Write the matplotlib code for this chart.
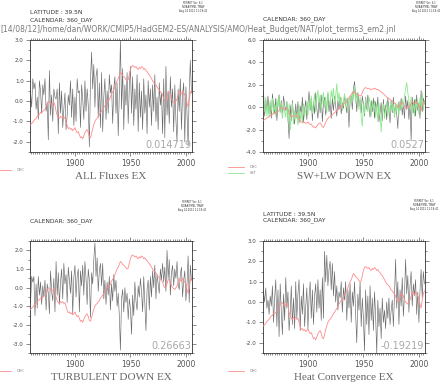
import numpy as np
import matplotlib
matplotlib.use('Agg')
import matplotlib.pyplot as plt
from matplotlib.ticker import MultipleLocator, FormatStrFormatter

# annual values 1860-2005
years = np.arange(1860, 2006)

ohc = [
    -1.17, -1.10, -1.05, -0.95, -0.90, -0.85, -0.75, -0.68, -0.65, -0.55,
    -0.58, -0.50, -0.45, -0.40, -0.30, -0.10, 0.00, -0.05, -0.10, -0.20,
    -0.15, -0.05, -0.20, -0.50, -0.70, -0.80, -0.85, -0.75, -0.80, -0.75,
    -0.85, -0.80, -1.00, -1.20, -1.35, -1.30, -1.40, -1.35, -1.45, -1.40,
    -1.30, -1.45, -1.55, -1.50, -1.65, -1.80, -1.75, -1.85, -1.70, -1.55,
    -1.45, -1.40, -1.55, -1.75, -1.80, -1.60, -1.35, -1.15, -1.00, -0.90,
    -0.85, -0.75, -0.70, -0.55, -0.50, -0.40, -0.30, -0.25, -0.10, 0.00,
    0.10, 0.05, 0.20, 0.35, 0.45, 0.55, 0.70, 0.85, 1.00, 1.10,
    1.25, 1.40, 1.35, 1.25, 1.20, 1.15, 1.05, 1.00, 1.05, 1.30,
    1.55, 1.70, 1.75, 1.70, 1.65, 1.70, 1.60, 1.55, 1.65, 1.60,
    1.70, 1.65, 1.55, 1.60, 1.50, 1.45, 1.35, 1.30, 1.20, 1.10,
    1.00, 0.90, 0.85, 0.80, 0.70, 0.60, 0.55, 0.45, 0.40, 0.30,
    0.10, 0.00, 0.05, 0.20, 0.45, 0.40, 0.30, 0.10, 0.00, -0.05,
    -0.10, 0.00, 0.10, 0.30, 0.50, 0.40, 0.35, 0.50, 0.40, 0.30,
    0.20, -0.10, -0.30, 0.10, 0.40, 0.55]

all_fluxes = [
    0.4, -0.3, 1.1, 0.6, 0.9, -0.4, 0.2, -0.9, 1.0, 0.5,
    -0.6, 0.8, 0.3, 1.1, -0.5, -0.1, -1.9, 1.5, -0.7, 0.3,
    -1.0, 0.6, 0.2, 0.1, 0.6, -1.6, 0.9, -0.6, 0.5, -1.3,
    -0.4, 0.4, -1.4, -0.7, 0.3, -0.2, 1.0, -0.8, 0.6, -1.2,
    0.2, -1.0, 1.1, 0.4, 0.5, -1.3, 0.8, 0.1, -0.9, 1.0,
    -0.5, 0.6, -0.2, -2.25, 1.0, 2.4, 0.6, 1.8, -0.3, 1.2,
    1.6, -0.8, 0.9, -1.3, 1.4, -1.5, 0.2, 1.1, -0.9, 0.5,
    -0.6, 1.3, 0.4, 0.8, -1.1, 0.6, 1.2, -0.6, 0.9, -1.7,
    0.4, 3.0, -0.4, 1.6, -1.4, 0.8, -0.2, 1.4, -1.1, 0.7,
    1.7, -0.6, 1.2, -1.2, 0.6, -0.4, 1.3, -1.5, 0.9, -0.8,
    0.5, -1.4, 1.1, -0.6, 0.3, -1.6, 1.0, -0.3, 0.6, -1.2,
    0.8, -0.5, 1.3, -1.0, 0.2, -1.4, 0.9, -0.2, 0.4, -1.6,
    1.1, -1.8, 1.7, -0.7, 0.5, -1.1, 1.2, -0.3, 0.6, -1.5,
    0.8, -0.9, -2.0, 0.6, -0.5, 1.1, -1.4, 0.3, 0.9, -2.0,
    0.7, -0.6, -2.2, 0.5, 2.0, 0.4]

swlw_down = [
    1.3, -0.8, 0.6, -0.2, 1.0, -0.6, 0.4, -1.0, 1.2, 0.1,
    -0.5, 0.8, -1.2, 0.3, 1.1, -0.4, 0.6, -0.9, 1.0, 0.2,
    -0.3, 0.5, -1.0, -2.8, 0.2, -1.2, 0.6, -0.8, -1.5, 0.3,
    -1.0, 0.5, -1.4, 0.1, -0.6, 0.9, -1.3, -0.2, 0.6, -1.1,
    0.3, 1.4, -0.3, 0.8, -1.2, 0.5, -0.6, 1.3, -0.1, -1.0,
    0.7, -0.5, 1.1, -1.3, 0.4, 0.9, -0.7, 0.2, 1.2, -0.4,
    0.5, -1.0, 0.8, -0.3, 1.0, 0.1, -0.8, 0.6, -0.2, 0.9,
    -0.6, 0.4, -0.1, 1.1, 0.3, -0.5, 0.8, -1.8, 0.6, 1.0,
    -0.2, 1.6, 2.3, 0.9, -0.4, 1.3, 0.1, 0.7, -0.5, 1.0,
    0.3, -0.8, 0.9, -0.2, 1.1, 0.0, -0.9, 0.6, -0.4, 0.8,
    -1.0, 0.5, -0.3, 0.9, -1.3, -0.5, 0.4, -1.2, 0.7, -0.6,
    0.2, -1.1, 0.8, -0.2, -1.4, 0.6, -0.5, 0.9, -0.9, 0.3,
    -0.6, -1.9, 0.5, -0.3, 0.8, -0.7, 0.4, -1.0, 1.0, -0.2,
    0.6, -1.1, 0.3, -3.0, 0.9, -0.5, 0.7, -0.8, 1.1, -0.3,
    0.4, -1.0, 1.5, -0.4, 0.8, 0.3]

sst = [
    0.5, -0.4, 0.9, -0.8, 0.2, -0.9, 0.6, -0.3, 0.8, -0.6,
    0.3, -0.8, 0.7, 0.0, 1.1, -0.5, 0.4, -1.0, 0.2, -0.4,
    -0.9, 0.5, -1.3, 0.3, -2.0, -0.8, 0.4, -1.5, -0.3, -1.0,
    -0.6, -1.6, 0.2, -1.2, -0.4, -1.4, 0.3, -0.8, -0.3, 0.5,
    -0.7, 0.6, -0.2, 1.0, -0.6, 0.3, 1.2, -0.4, 0.8, 1.5,
    0.4, 1.1, -0.3, 0.7, 1.3, 0.0, 0.9, -0.5, 1.4, 0.6,
    0.2, 1.5, 0.8, 1.7, 0.3, 1.0, 2.1, 0.5, 1.3, 0.2,
    0.9, -0.3, 0.6, 1.2, 0.1, 0.8, -0.5, 0.5, 1.0, 0.3,
    1.4, 0.7, 1.9, 0.4, 1.2, 0.6, -0.2, 0.9, -0.9, -1.7,
    0.3, -0.6, 0.8, 0.1, -0.4, 0.9, 0.4, -0.8, 0.5, -0.2,
    0.6, -0.9, 0.2, -1.3, 0.4, -0.7, -2.2, -0.4, 0.3, -1.0,
    -0.2, 0.5, -0.8, 0.1, -0.5, 0.6, -0.3, 0.2, -0.9, 0.4,
    -0.4, 0.3, -0.7, 0.5, -0.2, 0.7, 0.0, 1.0, 1.6, 2.2,
    1.3, 0.6, -0.2, 0.9, -0.5, 0.4, -0.8, 0.7, -0.1, 0.5,
    -0.6, 0.8, 0.1, 1.3, -0.3, 0.6]

turbulent_down = [
    -0.8, 0.6, 0.3, 0.6, -1.5, 0.2, -1.1, 0.6, -0.4, 0.3,
    -0.9, 0.1, -0.5, 0.4, -1.2, 0.2, -0.3, -1.4, 0.9, -0.2,
    -0.7, 0.5, -1.3, 1.4, -0.4, 0.8, -0.9, 0.3, 1.0, -0.6,
    1.3, 0.2, 0.7, -0.8, 1.1, 0.4, -0.3, 0.9, -1.4, 0.5,
    1.2, -0.5, 0.6, 1.0, -1.3, 0.9, 0.1, 1.2, -0.4, 1.4,
    0.5, -0.9, 1.0, 0.4, -1.6, 0.8, 0.2, 1.5, 2.4, 0.6,
    1.6, -0.2, 0.9, 1.3, 0.1, 1.3, -0.6, 0.4, -0.9, 0.3,
    -0.4, 0.6, -1.2, 0.2, -0.7, 0.7, -0.2, 0.4, -1.0, -0.3,
    -1.5, -3.35, -0.6, -0.1, -1.3, 0.0, -0.8, -0.3, -1.7, -0.6,
    -1.1, -2.5, -0.4, -1.5, 0.3, -0.7, -1.2, 0.1, -0.5, 0.5,
    -0.2, -1.3, 0.6, -0.9, -2.3, -0.1, 0.4, -1.2, 0.6, -0.5,
    0.9, 0.0, 1.2, -0.6, 0.7, 0.2, -0.3, 1.0, 0.4, 1.3,
    0.3, 1.1, -0.2, 2.0, 0.5, 1.5, -0.4, 0.8, 1.2, 0.1,
    1.0, 0.5, 1.4, 0.2, -0.1, 0.7, 1.1, -0.5, 0.4, 0.9,
    -0.7, 0.2, 1.7, -0.8, 1.2, 0.4]

heat_conv = [
    0.5, 0.0, 0.7, -0.3, 0.1, -0.6, 0.3, -0.2, 0.8, -1.0,
    0.2, 1.1, -1.2, 0.6, -1.7, 0.9, -0.5, -1.6, 0.4, -0.9,
    1.2, -0.3, 0.5, -1.4, -0.6, 0.8, -1.1, 0.2, -1.3, 1.0,
    -0.8, 0.4, 1.1, -1.4, 0.3, -0.6, 0.9, -1.2, -0.2, 0.7,
    -1.3, 0.2, 1.0, -0.8, 0.6, -1.1, 0.3, 0.9, -0.5, 1.1,
    -0.3, 0.6, -0.9, 1.2, -0.8, 2.5, 1.0, 2.3, 0.8, 1.6,
    2.0, 0.6, 1.9, 0.3, 1.5, 0.0, 0.8, -0.4, 0.5, 0.2,
    1.0, -0.5, 0.7, 0.1, 1.0, -0.9, 0.6, -0.3, 0.9, -1.0,
    0.5, -0.2, 1.0, -0.6, -2.0, 0.4, -0.4, 1.0, -1.2, 0.2,
    -0.8, -2.4, 0.6, -1.1, 0.3, -1.6, 0.8, -0.9, 0.2, -1.4,
    0.5, -0.7, -2.5, 0.1, -1.2, -0.3, -1.8, 0.2, -1.0, -0.4,
    -1.3, 0.0, -0.8, 0.2, -1.1, -0.4, 0.1, -1.2, 0.3, 2.1,
    -0.3, 1.0, -1.1, 0.6, -0.2, 1.2, -0.7, 0.3, 2.1, 0.4,
    1.3, -0.5, 0.8, 1.5, -0.2, 0.9, 0.3, 1.1, -0.6, 0.5,
    -1.0, 0.6, 1.6, 0.2, 1.5, 0.9]

titles = ['ALL Fluxes EX', 'SW+LW DOWN EX', 'TURBULENT DOWN EX', 'Heat Convergence EX']
corr_labels = ['0.014719', '0.0527', '0.26663', '-0.19219']

W, H = 442, 384
path_txt = '[14/08/12]/home/dan/WORK/CMIP5/HadGEM2-ES/ANALYSIS/AMO/Heat_Budget/NAT/plot_terms3_em2.jnl'
stamp = 'FERRET Ver. 6.1\nNOAA/PMEL TMAP\nAug 14 2012 11:18:41'

RED = '#ff8c8c'
GREEN = '#8ee88e'
GRAY = '#6a6a6a'


def fx(x):
    return x / W


def fy(y):
    return 1 - y / H


def panel(rect, gray, ylim, ymaj, ymin, corr, title, sst_line=None):
    ax = fig.add_axes(rect)
    ax.plot(years, gray, color=GRAY, lw=0.45, zorder=2)
    l1, = ax.plot(years, ohc, color=RED, lw=0.6, zorder=3, label='OHC')
    handles = [l1]
    if sst_line is not None:
        l2, = ax.plot(years, sst_line, color=GREEN, lw=0.6, zorder=2.5, label='SST')
        handles.append(l2)
    ax.set_xlim(1859.5, 2005.5)
    ax.set_ylim(*ylim)
    ax.xaxis.set_major_locator(MultipleLocator(50))
    ax.xaxis.set_minor_locator(MultipleLocator(2))
    ax.yaxis.set_major_locator(MultipleLocator(ymaj))
    ax.yaxis.set_minor_locator(MultipleLocator(ymin))
    ax.yaxis.set_major_formatter(FormatStrFormatter('%.1f'))
    ax.tick_params(which='both', direction='out', top=True, right=True,
                   width=0.4, colors='#333333')
    ax.tick_params(which='major', length=3)
    ax.tick_params(which='minor', length=1.5)
    ax.tick_params(axis='y', labelsize=4, pad=1.5, labelcolor='#444444')
    ax.tick_params(axis='x', labelsize=5.5, pad=2, labelcolor='#555555')
    for s in ax.spines.values():
        s.set_linewidth(0.6)
        s.set_color('#333333')
    ax.text(0.995, 0.02, corr, transform=ax.transAxes, ha='right', va='bottom',
            fontsize=7, color='#a8a8a8')
    ax.text(0.5, -0.215, title, transform=ax.transAxes, ha='center', va='center',
            fontsize=8, color='#666666', family='Liberation Serif')
    leg = ax.legend(handles=handles, loc='center left', bbox_to_anchor=(-0.215, -0.16),
                    frameon=False, fontsize=2.5, handlelength=4.5, handletextpad=1.6,
                    labelspacing=0.6, borderpad=0, borderaxespad=0)
    for t in leg.get_texts():
        t.set_color('#777777')
    return ax


fig = plt.figure(figsize=(W / 100, H / 100), dpi=100)

aw, ah = 162 / W, 112 / H
panel([fx(30), fy(152), aw, ah], all_fluxes, (-2.5, 3.0), 1.0, 0.5, corr_labels[0], titles[0])
panel([fx(263), fy(152), aw, ah], swlw_down, (-4.0, 6.0), 2.0, 1.0, corr_labels[1], titles[1], sst_line=sst)
panel([fx(30), fy(353), aw, ah], turbulent_down, (-3.5, 2.5), 1.0, 0.5, corr_labels[2], titles[2])
panel([fx(263), fy(353), aw, ah], heat_conv, (-2.5, 3.0), 1.0, 0.5, corr_labels[3], titles[3])

# header texts
hdr = dict(fontsize=4.3, color='#333333', va='center', ha='left')
fig.text(fx(30), fy(13), 'LATITUDE : 39.5N', **hdr)
fig.text(fx(30), fy(20), 'CALENDAR: 360_DAY', **hdr)
fig.text(fx(263), fy(19), 'CALENDAR: 360_DAY', **hdr)
fig.text(fx(30), fy(221), 'CALENDAR: 360_DAY', **hdr)
fig.text(fx(263), fy(214), 'LATITUDE : 39.5N', **hdr)
fig.text(fx(263), fy(220), 'CALENDAR: 360_DAY', **hdr)

fig.text(fx(0), fy(30), path_txt, fontsize=5.5, color='#7a7a7a', va='center', ha='left')

for sx, sy in [(193, 0.8), (426, 0.8), (192, 200), (424, 199)]:
    fig.text(fx(sx), fy(sy), stamp, fontsize=1.8, color='#333333', ha='center', va='top',
             linespacing=1.0)

fig.savefig('out.png', dpi=100)
